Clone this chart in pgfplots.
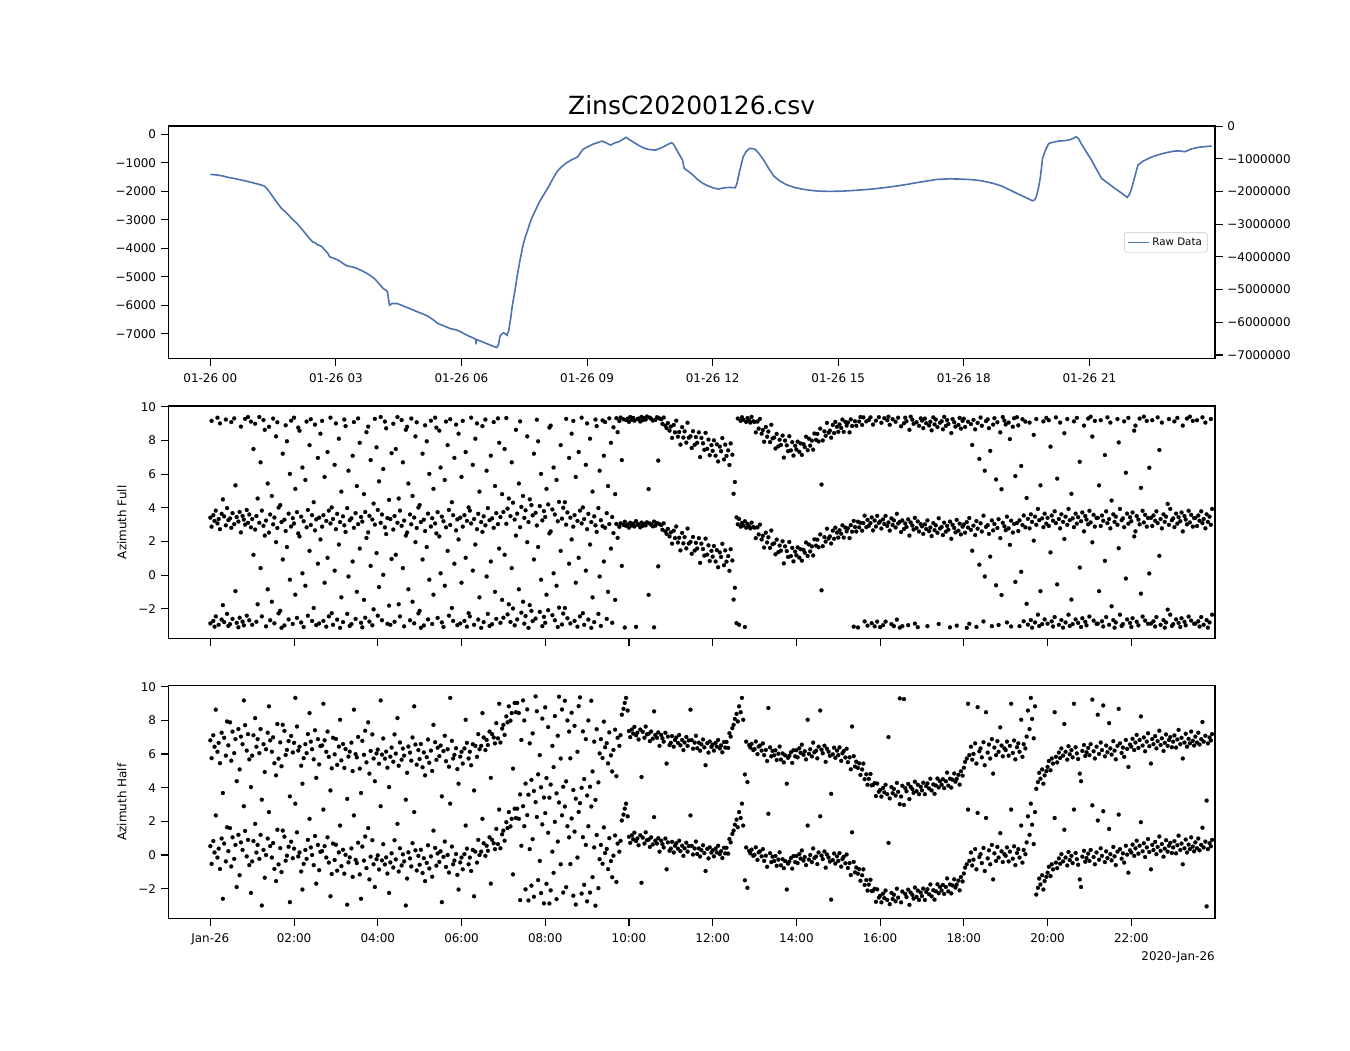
\documentclass[border=0pt]{standalone}
\usepackage{fontspec}
\setmainfont{DejaVu Sans}
\usepackage{pgfplots}
\usepackage{pgfplotstable}
\pgfplotsset{compat=1.18}
\definecolor{rawblue}{RGB}{76,114,176}

\pgfplotstableread[row sep=\\]{
t v\\
0.00 -1405\\ 0.10 -1415\\ 0.18 -1428\\ 0.30 -1460\\ 0.43 -1510\\ 0.55 -1540\\ 0.67 -1580\\ 0.80 -1620\\ 0.92 -1662\\ 1.05 -1710\\
1.17 -1756\\ 1.29 -1814\\ 1.35 -1900\\ 1.41 -2013\\ 1.50 -2200\\ 1.58 -2365\\ 1.64 -2480\\ 1.70 -2599\\ 1.78 -2700\\ 1.87 -2833\\
1.97 -2990\\ 2.07 -3125\\ 2.15 -3260\\ 2.24 -3418\\ 2.34 -3600\\ 2.44 -3769\\ 2.50 -3800\\ 2.55 -3860\\ 2.65 -3921\\ 2.73 -4050\\
2.81 -4179\\ 2.85 -4296\\ 2.95 -4350\\ 3.06 -4413\\ 3.16 -4520\\ 3.26 -4612\\ 3.36 -4640\\ 3.47 -4682\\ 3.60 -4770\\ 3.72 -4858\\
3.82 -4950\\ 3.92 -5057\\ 4.02 -5220\\ 4.13 -5408\\ 4.20 -5470\\ 4.23 -5525\\ 4.26 -5800\\ 4.28 -5993\\ 4.35 -5930\\ 4.46 -5935\\
4.58 -6000\\ 4.70 -6075\\ 4.83 -6150\\ 4.95 -6227\\ 5.08 -6300\\ 5.20 -6379\\ 5.32 -6500\\ 5.44 -6637\\ 5.55 -6700\\ 5.73 -6813\\
5.85 -6850\\ 5.94 -6895\\ 6.06 -6990\\ 6.18 -7082\\ 6.28 -7140\\ 6.34 -7199\\ 6.35 -7360\\ 6.36 -7199\\ 6.47 -7260\\ 6.60 -7340\\
6.72 -7410\\ 6.84 -7480\\ 6.88 -7400\\ 6.92 -7082\\ 6.97 -6990\\ 7.01 -6965\\ 7.05 -7000\\ 7.09 -7047\\ 7.13 -6871\\ 7.17 -6500\\
7.21 -6052\\ 7.28 -5450\\ 7.34 -4881\\ 7.40 -4400\\ 7.46 -3945\\ 7.52 -3620\\ 7.58 -3360\\ 7.66 -3000\\ 7.75 -2716\\ 7.83 -2460\\
7.91 -2247\\ 8.00 -2030\\ 8.08 -1838\\ 8.18 -1560\\ 8.28 -1311\\ 8.38 -1150\\ 8.49 -1018\\ 8.62 -900\\ 8.78 -784\\ 8.84 -650\\
8.90 -527\\ 9.02 -430\\ 9.15 -339\\ 9.25 -290\\ 9.36 -234\\ 9.46 -300\\ 9.56 -375\\ 9.66 -300\\ 9.76 -258\\ 9.85 -180\\
9.93 -105\\ 10.03 -200\\ 10.13 -293\\ 10.25 -400\\ 10.38 -492\\ 10.50 -535\\ 10.63 -550\\ 10.73 -500\\ 10.83 -433\\ 10.93 -350\\
11.02 -293\\ 11.07 -350\\ 11.12 -492\\ 11.20 -700\\ 11.28 -901\\ 11.32 -1194\\ 11.45 -1330\\ 11.53 -1428\\ 11.61 -1545\\ 11.68 -1627\\
11.78 -1730\\ 11.90 -1814\\ 12.02 -1880\\ 12.15 -1920\\ 12.22 -1890\\ 12.29 -1873\\ 12.40 -1860\\ 12.54 -1873\\ 12.58 -1721\\ 12.65 -1250\\
12.73 -784\\ 12.80 -600\\ 12.88 -492\\ 12.95 -500\\ 13.02 -527\\ 13.12 -700\\ 13.22 -901\\ 13.34 -1200\\ 13.46 -1463\\ 13.60 -1630\\
13.75 -1756\\ 13.95 -1860\\ 14.14 -1920\\ 14.35 -1965\\ 14.53 -1990\\ 14.80 -2000\\ 15.11 -1990\\ 15.45 -1960\\ 15.79 -1920\\ 16.10 -1870\\
16.38 -1814\\ 16.62 -1760\\ 16.86 -1697\\ 17.10 -1640\\ 17.35 -1580\\ 17.65 -1560\\ 17.93 -1568\\ 18.20 -1590\\ 18.42 -1627\\ 18.68 -1710\\
18.91 -1814\\ 19.10 -1950\\ 19.30 -2095\\ 19.50 -2230\\ 19.64 -2329\\ 19.69 -2300\\ 19.73 -2189\\ 19.78 -1900\\ 19.83 -1487\\ 19.88 -843\\
19.95 -550\\ 20.03 -316\\ 20.15 -270\\ 20.27 -234\\ 20.40 -220\\ 20.51 -199\\ 20.60 -150\\ 20.68 -82\\ 20.74 -150\\ 20.80 -316\\
20.92 -600\\ 21.05 -901\\ 21.17 -1230\\ 21.29 -1545\\ 21.45 -1720\\ 21.63 -1920\\ 21.78 -2070\\ 21.90 -2212\\ 21.96 -2100\\ 22.02 -1838\\
22.09 -1450\\ 22.16 -1077\\ 22.28 -940\\ 22.41 -843\\ 22.55 -760\\ 22.70 -691\\ 22.87 -630\\ 23.04 -585\\ 23.15 -580\\ 23.28 -609\\
23.42 -520\\ 23.58 -457\\ 23.75 -430\\ 23.92 -410\\
}\toptable

\pgfplotstableread[row sep=\\]{
t a\\
0.00 -2.87\\ 0.03 2.88\\ 0.07 -2.72\\ 0.10 -3.06\\ 0.13 -2.45\\ 0.17 3.07\\ 0.20 -2.95\\ 0.23 2.73\\ 0.27 -2.64\\ 0.30 -1.78\\
0.33 -2.79\\ 0.37 2.96\\ 0.40 -2.30\\ 0.43 -3.02\\ 0.47 -2.91\\ 0.50 2.81\\ 0.53 -2.60\\ 0.57 3.03\\ 0.60 -0.95\\ 0.63 -2.83\\
0.67 -3.10\\ 0.70 -2.53\\ 0.73 2.54\\ 0.77 -2.76\\ 0.80 -2.98\\ 0.83 3.00\\ 0.87 -2.41\\ 0.90 3.11\\ 0.93 -2.68\\ 0.97 2.84\\
1.00 -2.95\\ 1.03 1.21\\ 1.07 2.71\\ 1.10 -2.77\\ 1.13 -1.73\\ 1.17 3.11\\ 1.20 0.42\\ 1.23 -2.45\\ 1.27 2.93\\ 1.30 2.35\\
1.33 -3.04\\ 1.37 -0.84\\ 1.40 2.53\\ 1.43 -2.68\\ 1.47 -1.58\\ 1.50 3.02\\ 1.53 -2.86\\ 1.57 1.96\\ 1.60 2.80\\ 1.63 -2.27\\
1.67 -2.12\\ 1.70 -3.13\\ 1.73 0.93\\ 1.77 -2.99\\ 1.80 2.62\\ 1.83 1.67\\ 1.87 -2.63\\ 1.90 -0.27\\ 1.93 2.89\\ 1.97 -2.90\\
2.00 3.07\\ 2.03 -1.16\\ 2.07 -2.54\\ 2.10 2.48\\ 2.13 2.30\\ 2.17 -2.81\\ 2.20 0.11\\ 2.23 -3.08\\ 2.27 -0.63\\ 2.30 2.84\\
2.33 -2.41\\ 2.37 1.44\\ 2.40 2.98\\ 2.43 -2.72\\ 2.47 -1.95\\ 2.50 2.66\\ 2.53 -2.97\\ 2.57 0.68\\ 2.60 -2.87\\ 2.63 2.12\\
2.67 2.88\\ 2.70 -2.72\\ 2.73 -0.45\\ 2.77 -3.06\\ 2.80 1.03\\ 2.83 -2.45\\ 2.87 3.07\\ 2.90 -2.26\\ 2.93 -2.95\\ 2.97 0.27\\
3.00 2.73\\ 3.03 -2.64\\ 3.07 1.82\\ 3.10 -3.13\\ 3.13 -1.32\\ 3.17 -2.79\\ 3.20 2.96\\ 3.23 2.57\\ 3.27 -2.30\\ 3.30 -0.08\\
3.33 -3.02\\ 3.37 -2.91\\ 3.40 0.81\\ 3.43 2.81\\ 3.47 -2.60\\ 3.50 -0.99\\ 3.53 3.03\\ 3.57 1.58\\ 3.60 -2.83\\ 3.63 -3.10\\
3.67 -1.47\\ 3.70 -2.53\\ 3.73 2.21\\ 3.77 2.54\\ 3.80 -2.76\\ 3.83 0.55\\ 3.87 -2.98\\ 3.90 -2.03\\ 3.93 3.00\\ 3.97 1.31\\
4.00 -2.41\\ 4.03 -0.71\\ 4.07 3.11\\ 4.10 -2.68\\ 4.13 0.02\\ 4.17 2.84\\ 4.20 2.44\\ 4.23 -2.89\\ 4.27 -1.81\\ 4.30 -2.95\\
4.33 0.96\\ 4.37 2.71\\ 4.40 -2.77\\ 4.43 1.21\\ 4.47 3.11\\ 4.50 -1.73\\ 4.53 -2.45\\ 4.57 2.93\\ 4.60 0.42\\ 4.63 -3.04\\
4.67 2.35\\ 4.70 2.53\\ 4.73 -0.84\\ 4.77 -2.68\\ 4.80 3.02\\ 4.83 -1.58\\ 4.87 -2.86\\ 4.90 1.96\\ 4.93 2.80\\ 4.97 -2.27\\
5.00 -2.12\\ 5.03 -3.13\\ 5.07 0.93\\ 5.10 -2.99\\ 5.13 2.62\\ 5.17 1.67\\ 5.20 -2.63\\ 5.23 -0.27\\ 5.27 2.89\\ 5.30 -2.90\\
5.33 -1.16\\ 5.37 3.07\\ 5.40 2.48\\ 5.43 -2.54\\ 5.47 2.30\\ 5.50 0.11\\ 5.53 -2.81\\ 5.57 -3.08\\ 5.60 -0.63\\ 5.63 2.84\\
5.67 1.44\\ 5.70 -2.41\\ 5.73 2.98\\ 5.77 -1.95\\ 5.80 -2.72\\ 5.83 0.68\\ 5.87 2.66\\ 5.90 -2.97\\ 5.93 2.12\\ 5.97 -2.87\\
6.00 -0.45\\ 6.03 2.88\\ 6.07 -2.72\\ 6.10 1.03\\ 6.13 -3.06\\ 6.17 -2.26\\ 6.20 -2.45\\ 6.23 3.07\\ 6.27 0.27\\ 6.30 -2.95\\
6.33 1.82\\ 6.37 2.73\\ 6.40 -2.64\\ 6.43 -1.32\\ 6.47 -3.13\\ 6.50 2.57\\ 6.53 -2.79\\ 6.57 2.96\\ 6.60 -0.08\\ 6.63 -2.30\\
6.67 -3.02\\ 6.70 0.81\\ 6.73 -2.91\\ 6.77 2.81\\ 6.80 -0.99\\ 6.83 -2.60\\ 6.87 3.03\\ 6.90 1.58\\ 6.93 -2.83\\ 6.97 -1.47\\
7.00 -2.53\\ 7.03 1.21\\ 7.07 3.05\\ 7.10 -2.33\\ 7.13 -1.73\\ 7.17 -2.78\\ 7.20 0.42\\ 7.23 -1.98\\ 7.27 -2.98\\ 7.30 2.35\\
7.33 -2.63\\ 7.37 -0.84\\ 7.40 2.85\\ 7.43 -2.23\\ 7.47 -1.58\\ 7.50 -2.88\\ 7.53 -2.43\\ 7.57 1.96\\ 7.60 -3.13\\ 7.63 -1.78\\
7.67 -2.12\\ 7.70 -2.73\\ 7.73 0.93\\ 7.77 -2.58\\ 7.80 2.95\\ 7.83 1.67\\ 7.87 -2.18\\ 7.90 -0.27\\ 7.93 -3.03\\ 7.97 -2.48\\
8.00 -2.83\\ 8.03 -1.16\\ 8.07 -2.08\\ 8.10 2.48\\ 8.13 2.60\\ 8.17 -2.38\\ 8.20 0.11\\ 8.23 -2.68\\ 8.27 -0.63\\ 8.30 -3.08\\
8.33 -1.93\\ 8.37 1.44\\ 8.40 -2.93\\ 8.43 -2.28\\ 8.47 -1.95\\ 8.50 3.00\\ 8.53 -2.56\\ 8.57 0.68\\ 8.60 -2.87\\ 8.63 2.12\\
8.67 2.88\\ 8.70 -2.72\\ 8.73 -0.45\\ 8.77 -3.06\\ 8.80 1.03\\ 8.83 -2.45\\ 8.87 3.07\\ 8.90 -2.26\\ 8.93 -2.95\\ 8.97 0.27\\
9.00 2.73\\ 9.03 -2.64\\ 9.07 1.82\\ 9.10 -3.13\\ 9.13 -1.32\\ 9.17 -2.79\\ 9.20 2.96\\ 9.23 2.57\\ 9.27 -2.30\\ 9.30 -0.08\\
9.33 -3.02\\ 9.37 2.91\\ 9.40 0.81\\ 9.43 2.81\\ 9.47 -2.60\\ 9.50 -0.99\\ 9.53 3.03\\ 9.57 1.58\\ 9.60 -2.83\\ 9.63 2.50\\
9.67 -1.47\\ 9.70 3.04\\ 9.73 2.21\\ 9.77 2.87\\ 9.80 3.08\\ 9.83 0.55\\ 9.87 2.98\\ 9.90 -3.11\\ 9.93 2.93\\ 9.97 3.01\\
10.00 2.82\\ 10.03 3.11\\ 10.07 2.95\\ 10.10 3.06\\ 10.13 2.89\\ 10.17 -3.07\\ 10.20 2.99\\ 10.23 3.02\\ 10.27 2.84\\ 10.30 3.12\\
10.33 2.92\\ 10.37 3.05\\ 10.40 2.96\\ 10.43 3.14\\ 10.47 -1.17\\ 10.50 3.07\\ 10.53 3.00\\ 10.57 2.90\\ 10.60 -3.10\\ 10.63 2.94\\
10.67 3.10\\ 10.70 0.52\\ 10.73 3.03\\ 10.77 2.98\\ 10.80 2.70\\ 10.83 3.08\\ 10.87 2.60\\ 10.90 2.45\\ 10.93 2.75\\ 10.97 2.30\\
11.00 2.54\\ 11.03 1.87\\ 11.07 2.64\\ 11.10 2.20\\ 11.13 2.89\\ 11.17 1.94\\ 11.20 2.22\\ 11.23 1.47\\ 11.27 2.51\\ 11.30 1.89\\
11.33 2.26\\ 11.37 1.59\\ 11.40 2.77\\ 11.43 1.88\\ 11.47 1.97\\ 11.50 1.27\\ 11.53 2.27\\ 11.57 1.46\\ 11.60 1.92\\ 11.63 1.58\\
11.67 2.20\\ 11.70 0.73\\ 11.73 1.87\\ 11.77 1.55\\ 11.80 1.16\\ 11.83 2.17\\ 11.87 1.22\\ 11.90 1.77\\ 11.93 0.84\\ 11.97 1.44\\
12.00 1.10\\ 12.03 1.73\\ 12.07 0.81\\ 12.10 1.49\\ 12.13 0.47\\ 12.17 1.35\\ 12.20 1.08\\ 12.23 1.86\\ 12.27 0.59\\ 12.30 1.47\\
12.33 0.80\\ 12.37 1.13\\ 12.40 0.26\\ 12.43 1.54\\ 12.47 0.87\\ 12.50 -1.45\\ 12.53 -0.75\\ 12.57 -2.85\\ 12.60 3.02\\ 12.63 -2.95\\
12.67 2.88\\ 12.70 3.10\\ 12.73 2.95\\ 12.77 -3.08\\ 12.80 2.82\\ 12.83 3.05\\ 12.87 2.91\\ 12.90 2.78\\ 12.93 3.12\\ 12.97 2.86\\
13.00 2.82\\ 13.03 2.20\\ 13.07 2.84\\ 13.10 2.42\\ 13.13 3.00\\ 13.17 2.12\\ 13.20 2.34\\ 13.23 1.64\\ 13.27 2.52\\ 13.30 1.94\\
13.33 2.25\\ 13.37 1.62\\ 13.40 2.65\\ 13.43 1.84\\ 13.47 1.89\\ 13.50 1.24\\ 13.53 2.11\\ 13.57 1.37\\ 13.60 1.76\\ 13.63 1.45\\
13.67 2.01\\ 13.70 0.70\\ 13.73 1.71\\ 13.77 1.43\\ 13.80 1.08\\ 13.83 1.97\\ 13.87 1.13\\ 13.90 1.62\\ 13.93 0.82\\ 13.97 1.40\\
14.00 1.18\\ 14.03 1.65\\ 14.07 1.04\\ 14.10 1.54\\ 14.13 0.86\\ 14.17 1.50\\ 14.20 1.33\\ 14.23 1.94\\ 14.27 1.14\\ 14.30 1.82\\
14.33 1.41\\ 14.37 1.71\\ 14.40 1.17\\ 14.43 2.13\\ 14.47 1.75\\ 14.50 2.11\\ 14.53 1.66\\ 14.57 2.42\\ 14.60 -0.90\\ 14.63 1.72\\
14.67 2.26\\ 14.70 1.99\\ 14.73 2.76\\ 14.77 2.18\\ 14.80 2.30\\ 14.83 1.88\\ 14.87 2.64\\ 14.90 2.16\\ 14.93 2.82\\ 14.97 2.53\\
15.00 2.23\\ 15.03 2.67\\ 15.07 2.46\\ 15.10 2.96\\ 15.13 2.23\\ 15.17 2.82\\ 15.20 2.60\\ 15.23 2.78\\ 15.27 2.20\\ 15.30 2.97\\
15.33 2.58\\ 15.37 -3.06\\ 15.40 2.86\\ 15.43 2.59\\ 15.47 -3.11\\ 15.50 2.84\\ 15.53 3.11\\ 15.57 2.64\\ 15.60 3.09\\ 15.63 -2.75\\
15.67 2.85\\ 15.70 -3.00\\ 15.73 2.93\\ 15.77 3.09\\ 15.80 -2.85\\ 15.83 2.66\\ 15.87 -3.04\\ 15.90 2.89\\ 15.93 -2.76\\ 15.97 3.10\\
16.00 -3.09\\ 16.03 2.77\\ 16.07 -2.97\\ 16.10 3.04\\ 16.13 -2.76\\ 16.17 2.92\\ 16.20 3.13\\ 16.23 2.65\\ 16.27 -2.91\\ 16.30 2.98\\
16.33 -3.03\\ 16.37 2.83\\ 16.40 -2.64\\ 16.43 3.07\\ 16.47 -3.12\\ 16.50 2.56\\ 16.53 -3.03\\ 16.57 2.74\\ 16.60 3.07\\ 16.63 2.86\\
16.67 -2.97\\ 16.70 2.35\\ 16.73 3.13\\ 16.77 2.95\\ 16.80 2.71\\ 16.83 -2.88\\ 16.87 2.80\\ 16.90 -3.09\\ 16.93 2.59\\ 16.97 3.03\\
17.00 2.90\\ 17.03 2.45\\ 17.07 3.02\\ 17.10 2.74\\ 17.13 -3.03\\ 17.17 2.61\\ 17.20 2.83\\ 17.23 2.32\\ 17.27 3.09\\ 17.30 2.67\\
17.33 2.96\\ 17.37 2.51\\ 17.40 -2.90\\ 17.43 2.77\\ 17.47 2.86\\ 17.50 2.38\\ 17.53 3.12\\ 17.57 2.58\\ 17.60 2.93\\ 17.63 2.70\\
17.67 -3.10\\ 17.70 2.16\\ 17.73 2.99\\ 17.77 2.80\\ 17.80 2.54\\ 17.83 -3.00\\ 17.87 2.64\\ 17.90 3.06\\ 17.93 2.42\\ 17.97 2.88\\
18.00 3.01\\ 18.03 2.52\\ 18.07 -3.13\\ 18.10 2.83\\ 18.13 -2.89\\ 18.17 2.69\\ 18.20 1.45\\ 18.23 2.94\\ 18.27 2.38\\ 18.30 -3.07\\
18.33 2.76\\ 18.37 0.62\\ 18.40 3.08\\ 18.43 2.59\\ 18.47 -2.75\\ 18.50 -0.08\\ 18.53 2.87\\ 18.57 2.97\\ 18.60 2.45\\ 18.63 1.10\\
18.67 -3.03\\ 18.70 2.66\\ 18.73 3.04\\ 18.77 -0.60\\ 18.80 2.80\\ 18.83 -2.96\\ 18.87 2.20\\ 18.90 -1.18\\ 18.93 3.11\\ 18.97 2.90\\
19.00 2.67\\ 19.03 -2.81\\ 19.07 2.78\\ 19.10 1.80\\ 19.13 -3.05\\ 19.17 2.53\\ 19.20 3.04\\ 19.23 -0.40\\ 19.27 3.10\\ 19.30 2.62\\
19.33 -3.03\\ 19.37 0.20\\ 19.40 2.98\\ 19.43 -2.74\\ 19.47 2.84\\ 19.50 -1.70\\ 19.53 -2.94\\ 19.57 2.78\\ 19.60 -2.67\\ 19.63 -3.12\\
19.67 2.05\\ 19.70 -2.81\\ 19.73 2.99\\ 19.77 -2.35\\ 19.80 -3.02\\ 19.83 -0.95\\ 19.87 -2.91\\ 19.90 2.85\\ 19.93 -2.63\\ 19.97 3.06\\
20.00 -2.88\\ 20.03 2.92\\ 20.07 1.35\\ 20.10 -2.74\\ 20.13 -3.05\\ 20.17 -2.49\\ 20.20 3.09\\ 20.23 -0.55\\ 20.27 -2.95\\ 20.30 2.78\\
20.33 -2.67\\ 20.37 -3.12\\ 20.40 2.15\\ 20.43 -2.81\\ 20.47 2.99\\ 20.50 -2.35\\ 20.53 -3.02\\ 20.57 -1.45\\ 20.60 -2.91\\ 20.63 2.85\\
20.67 -2.63\\ 20.70 3.06\\ 20.73 -2.84\\ 20.77 0.45\\ 20.80 -3.08\\ 20.83 -2.56\\ 20.87 2.60\\ 20.90 -2.77\\ 20.93 -2.98\\ 20.97 3.02\\
21.00 -2.46\\ 21.03 3.13\\ 21.07 1.95\\ 21.10 -2.70\\ 21.13 2.88\\ 21.17 -2.89\\ 21.20 -2.88\\ 21.23 -0.95\\ 21.27 2.92\\ 21.30 -2.74\\
21.33 -3.05\\ 21.37 0.85\\ 21.40 -2.49\\ 21.43 3.09\\ 21.47 -2.95\\ 21.50 2.78\\ 21.53 -1.85\\ 21.57 -2.67\\ 21.60 -3.12\\ 21.63 -2.81\\
21.67 2.99\\ 21.70 1.60\\ 21.73 -2.35\\ 21.77 -3.02\\ 21.80 -2.91\\ 21.83 2.85\\ 21.87 -0.20\\ 21.90 -2.63\\ 21.93 3.06\\ 21.97 -2.84\\
22.00 -3.08\\ 22.03 -2.56\\ 22.07 2.30\\ 22.10 2.60\\ 22.13 -2.77\\ 22.17 -2.98\\ 22.20 3.02\\ 22.23 -1.10\\ 22.27 -2.46\\ 22.30 3.13\\
22.33 -2.70\\ 22.37 2.88\\ 22.40 -2.89\\ 22.43 0.10\\ 22.47 -2.88\\ 22.50 2.92\\ 22.53 -2.74\\ 22.57 -3.05\\ 22.60 -2.49\\ 22.63 3.09\\
22.67 1.15\\ 22.70 -2.95\\ 22.73 2.78\\ 22.77 -2.67\\ 22.80 -3.12\\ 22.83 -2.81\\ 22.87 -2.05\\ 22.90 2.99\\ 22.93 -2.35\\ 22.97 -3.02\\
23.00 -2.91\\ 23.03 2.85\\ 23.07 -2.63\\ 23.10 3.06\\ 23.13 -2.84\\ 23.17 -3.08\\ 23.20 -2.56\\ 23.23 2.60\\ 23.27 -2.77\\ 23.30 -2.98\\
23.33 3.02\\ 23.37 -2.46\\ 23.40 3.13\\ 23.43 -2.70\\ 23.47 2.88\\ 23.50 -2.89\\ 23.53 -2.88\\ 23.57 2.92\\ 23.60 -2.74\\ 23.63 -3.05\\
23.67 -2.49\\ 23.70 3.09\\ 23.73 -2.95\\ 23.77 2.78\\ 23.80 -2.67\\ 23.83 -3.12\\ 23.87 -2.81\\ 23.90 2.99\\ 23.93 -2.35\\
}\fulltable

\pgfplotstableread[row sep=\\]{
t a\\
0.00 0.53\\ 0.03 -0.53\\ 0.07 0.83\\ 0.10 0.15\\ 0.13 2.35\\ 0.17 -0.15\\ 0.20 0.38\\ 0.23 -0.83\\ 0.27 0.98\\ 0.30 -2.60\\
0.33 0.68\\ 0.37 -0.38\\ 0.40 1.65\\ 0.43 0.23\\ 0.47 1.60\\ 0.50 -0.68\\ 0.53 1.05\\ 0.57 -0.23\\ 0.60 0.60\\ 0.63 -1.90\\
0.67 1.20\\ 0.70 -1.20\\ 0.73 0.75\\ 0.77 0.30\\ 0.80 2.90\\ 0.83 1.43\\ 0.87 -0.08\\ 0.90 0.90\\ 0.93 -0.60\\ 0.97 -2.25\\
1.00 -0.38\\ 1.03 0.83\\ 1.07 1.85\\ 1.10 0.15\\ 1.13 0.60\\ 1.17 -0.23\\ 1.20 1.20\\ 1.23 -3.00\\ 1.27 0.30\\ 1.30 -1.35\\
1.33 0.00\\ 1.37 0.98\\ 1.40 2.55\\ 1.43 0.53\\ 1.47 -0.15\\ 1.50 0.71\\ 1.53 -0.83\\ 1.57 -1.55\\ 1.60 1.50\\ 1.63 -0.56\\
1.67 0.41\\ 1.70 -1.01\\ 1.73 1.45\\ 1.77 1.09\\ 1.80 -0.34\\ 1.83 -0.04\\ 1.87 0.49\\ 1.90 -2.80\\ 1.93 0.79\\ 1.97 -0.19\\
2.00 0.38\\ 2.03 3.05\\ 2.07 1.35\\ 2.10 -0.08\\ 2.13 0.15\\ 2.17 -0.98\\ 2.20 -2.05\\ 2.23 -0.53\\ 2.27 0.30\\ 2.30 -0.23\\
2.33 0.90\\ 2.37 2.15\\ 2.40 0.45\\ 2.43 0.00\\ 2.47 -0.60\\ 2.50 1.13\\ 2.53 -1.70\\ 2.57 0.60\\ 2.60 -0.90\\ 2.63 0.19\\
2.67 0.23\\ 2.70 2.70\\ 2.73 0.53\\ 2.77 -0.15\\ 2.80 1.05\\ 2.83 -0.45\\ 2.87 -2.45\\ 2.90 -1.13\\ 2.93 0.68\\ 2.97 -0.30\\
3.00 0.61\\ 3.03 -0.93\\ 3.07 0.16\\ 3.10 1.75\\ 3.13 -0.66\\ 3.17 0.31\\ 3.20 -1.11\\ 3.23 0.01\\ 3.27 -2.95\\ 3.30 -0.44\\
3.33 -0.14\\ 3.37 0.39\\ 3.40 -1.30\\ 3.43 2.35\\ 3.47 -0.29\\ 3.50 -0.48\\ 3.53 0.73\\ 3.57 -1.15\\ 3.60 -2.60\\ 3.63 0.50\\
3.67 -0.33\\ 3.70 1.10\\ 3.73 -0.78\\ 3.77 1.60\\ 3.80 -1.45\\ 3.83 -0.10\\ 3.87 0.88\\ 3.90 -0.55\\ 3.93 -1.90\\ 3.97 -0.25\\
4.00 -0.02\\ 4.03 -0.86\\ 4.07 2.90\\ 4.10 -0.32\\ 4.13 0.64\\ 4.17 -0.56\\ 4.20 -0.14\\ 4.23 -1.10\\ 4.27 -2.25\\ 4.30 -0.44\\
4.33 0.10\\ 4.37 -0.74\\ 4.40 0.88\\ 4.43 -0.26\\ 4.47 1.85\\ 4.50 -0.98\\ 4.53 0.40\\ 4.57 -0.62\\ 4.60 0.04\\ 4.63 -0.38\\
4.67 -3.00\\ 4.70 -1.40\\ 4.73 0.16\\ 4.77 -0.20\\ 4.80 -0.68\\ 4.83 0.70\\ 4.87 2.55\\ 4.90 0.28\\ 4.93 -0.92\\ 4.97 -0.05\\
5.00 -0.58\\ 5.03 0.31\\ 5.07 -1.07\\ 5.10 -0.19\\ 5.13 -1.55\\ 5.17 -0.47\\ 5.20 0.58\\ 5.23 -0.80\\ 5.27 -0.08\\ 5.30 -1.29\\
5.33 1.45\\ 5.37 0.42\\ 5.40 -0.63\\ 5.43 0.09\\ 5.47 -0.41\\ 5.50 0.22\\ 5.53 -2.80\\ 5.57 -0.11\\ 5.60 0.80\\ 5.63 -0.71\\
5.67 0.00\\ 5.70 -1.04\\ 5.73 3.05\\ 5.77 0.50\\ 5.80 -0.55\\ 5.83 -0.33\\ 5.87 0.06\\ 5.90 -1.18\\ 5.93 -2.05\\ 5.97 -0.44\\
6.00 -0.15\\ 6.03 -0.85\\ 6.07 0.05\\ 6.10 1.75\\ 6.13 0.38\\ 6.17 -0.55\\ 6.20 -0.15\\ 6.23 -0.95\\ 6.27 0.30\\ 6.30 -2.45\\
6.33 0.20\\ 6.37 -0.45\\ 6.40 0.90\\ 6.43 0.00\\ 6.47 0.20\\ 6.50 2.15\\ 6.53 0.70\\ 6.57 -0.05\\ 6.60 0.55\\ 6.63 0.25\\
6.67 1.05\\ 6.70 -1.70\\ 6.73 0.90\\ 6.77 0.70\\ 6.80 0.35\\ 6.83 1.55\\ 6.87 0.65\\ 6.90 2.70\\ 6.93 0.40\\ 6.97 1.23\\
7.00 1.45\\ 7.03 0.85\\ 7.07 1.95\\ 7.10 1.60\\ 7.13 2.55\\ 7.17 1.70\\ 7.20 2.15\\ 7.23 -1.15\\ 7.27 2.75\\ 7.30 2.20\\
7.33 2.75\\ 7.37 2.15\\ 7.40 -2.68\\ 7.43 0.55\\ 7.47 2.90\\ 7.50 1.71\\ 7.53 -2.04\\ 7.57 2.37\\ 7.60 -2.70\\ 7.63 0.35\\
7.67 -1.82\\ 7.70 0.94\\ 7.73 -2.48\\ 7.77 3.14\\ 7.80 2.26\\ 7.83 -1.49\\ 7.87 -0.35\\ 7.90 -2.26\\ 7.93 1.82\\ 7.97 -2.87\\
8.00 2.49\\ 8.03 -1.71\\ 8.07 1.32\\ 8.10 -2.88\\ 8.13 -2.10\\ 8.17 0.20\\ 8.20 -1.06\\ 8.23 1.97\\ 8.27 -2.62\\ 8.30 0.80\\
8.33 3.12\\ 8.37 -0.55\\ 8.40 2.36\\ 8.43 -2.23\\ 8.47 2.88\\ 8.50 -1.91\\ 8.53 1.71\\ 8.57 1.05\\ 8.60 -0.54\\ 8.63 2.17\\
8.67 -2.42\\ 8.70 1.39\\ 8.73 -2.94\\ 8.77 -0.15\\ 8.80 2.56\\ 8.83 3.08\\ 8.87 -2.29\\ 8.90 1.06\\ 8.93 -1.77\\ 8.97 0.60\\
9.00 -2.75\\ 9.03 1.71\\ 9.07 -2.23\\ 9.10 2.88\\ 9.13 -1.32\\ 9.17 0.45\\ 9.20 -3.01\\ 9.23 1.19\\ 9.27 -1.97\\ 9.30 -0.25\\
9.33 0.60\\ 9.37 -0.52\\ 9.40 1.64\\ 9.43 0.12\\ 9.47 0.36\\ 9.50 -0.84\\ 9.53 1.00\\ 9.57 -0.36\\ 9.60 -1.32\\ 9.63 -0.04\\
9.67 1.16\\ 9.70 -1.60\\ 9.73 0.68\\ 9.77 0.20\\ 9.80 0.84\\ 9.83 2.05\\ 9.87 2.40\\ 9.90 2.75\\ 9.93 3.05\\ 9.97 2.30\\
10.00 1.08\\ 10.03 0.72\\ 10.07 1.17\\ 10.10 0.93\\ 10.13 1.33\\ 10.17 0.83\\ 10.20 0.98\\ 10.23 0.58\\ 10.27 1.17\\ 10.30 -1.65\\
10.33 1.03\\ 10.37 0.68\\ 10.40 1.35\\ 10.43 0.88\\ 10.47 0.92\\ 10.50 0.48\\ 10.53 1.05\\ 10.57 0.63\\ 10.60 2.25\\ 10.63 0.85\\
10.67 0.68\\ 10.70 1.00\\ 10.73 0.20\\ 10.77 0.85\\ 10.80 0.65\\ 10.83 0.45\\ 10.87 0.98\\ 10.90 -0.85\\ 10.93 0.75\\ 10.97 0.25\\
11.00 0.38\\ 11.03 0.78\\ 11.07 0.15\\ 11.10 0.55\\ 11.13 0.70\\ 11.17 0.38\\ 11.20 0.85\\ 11.23 0.23\\ 11.27 0.55\\ 11.30 -0.05\\
11.33 0.40\\ 11.37 0.73\\ 11.40 0.20\\ 11.43 0.53\\ 11.47 2.35\\ 11.50 0.54\\ 11.53 0.03\\ 11.57 0.39\\ 11.60 0.80\\ 11.63 0.06\\
11.67 0.39\\ 11.70 -0.09\\ 11.73 0.29\\ 11.77 0.58\\ 11.80 0.11\\ 11.83 -0.95\\ 11.87 0.36\\ 11.90 -0.20\\ 11.93 0.46\\ 11.97 0.14\\
12.00 0.28\\ 12.03 -0.08\\ 12.07 0.38\\ 12.10 0.15\\ 12.13 0.55\\ 12.17 0.05\\ 12.20 0.23\\ 12.23 -0.18\\ 12.27 0.43\\ 12.30 0.10\\
12.33 0.43\\ 12.37 0.08\\ 12.40 0.95\\ 12.43 0.75\\ 12.47 1.25\\ 12.50 1.45\\ 12.53 1.80\\ 12.57 2.10\\ 12.60 1.65\\ 12.63 2.55\\
12.67 2.20\\ 12.70 3.05\\ 12.73 1.75\\ 12.77 -1.50\\ 12.80 0.45\\ 12.83 -1.95\\ 12.87 0.25\\ 12.90 0.10\\ 12.93 0.32\\ 12.97 -0.05\\
13.00 0.01\\ 13.03 0.46\\ 13.07 -0.29\\ 13.10 0.16\\ 13.13 0.22\\ 13.17 -0.08\\ 13.20 0.35\\ 13.23 -0.35\\ 13.27 -0.04\\ 13.30 -0.70\\
13.33 2.45\\ 13.37 0.11\\ 13.40 -0.42\\ 13.43 -0.10\\ 13.47 -0.36\\ 13.50 -0.06\\ 13.53 -0.64\\ 13.57 -0.27\\ 13.60 0.16\\ 13.63 -0.61\\
13.67 -0.25\\ 13.70 -0.78\\ 13.73 -0.36\\ 13.77 -2.05\\ 13.80 -0.51\\ 13.83 -0.39\\ 13.87 -0.18\\ 13.90 -0.81\\ 13.93 -0.06\\ 13.97 -0.42\\
14.00 -0.06\\ 14.03 -0.48\\ 14.07 0.06\\ 14.10 -0.21\\ 14.13 0.27\\ 14.17 -0.33\\ 14.20 -0.12\\ 14.23 -0.60\\ 14.27 1.75\\ 14.30 -0.27\\
14.33 0.00\\ 14.37 -0.42\\ 14.40 0.39\\ 14.43 -0.18\\ 14.47 -0.09\\ 14.50 -0.54\\ 14.53 0.15\\ 14.57 2.30\\ 14.60 -0.03\\ 14.63 -0.24\\
14.67 0.21\\ 14.70 -0.75\\ 14.73 0.03\\ 14.77 -0.15\\ 14.80 -0.39\\ 14.83 -2.65\\ 14.87 -0.30\\ 14.90 0.09\\ 14.93 -0.51\\ 14.97 -0.08\\
15.00 -0.35\\ 15.03 0.11\\ 15.07 -0.69\\ 15.10 -0.24\\ 15.13 -0.11\\ 15.17 -0.49\\ 15.20 0.03\\ 15.23 -0.77\\ 15.27 -0.48\\ 15.30 -1.19\\
15.33 1.35\\ 15.37 -0.41\\ 15.40 -1.03\\ 15.43 -0.74\\ 15.47 -1.11\\ 15.50 -0.84\\ 15.53 -1.53\\ 15.57 -1.20\\ 15.60 -0.85\\ 15.63 -1.78\\
15.67 -1.49\\ 15.70 -2.11\\ 15.73 -1.76\\ 15.77 -1.47\\ 15.80 -2.14\\ 15.83 -2.12\\ 15.87 -2.01\\ 15.90 -2.78\\ 15.93 -2.04\\ 15.97 -2.53\\
16.00 -2.42\\ 16.03 -2.81\\ 16.07 -2.30\\ 16.10 -2.56\\ 16.13 -2.11\\ 16.17 -2.67\\ 16.20 0.72\\ 16.23 -2.92\\ 16.27 -2.25\\ 16.30 -2.61\\
16.33 -2.36\\ 16.37 -2.75\\ 16.40 -2.00\\ 16.43 -2.53\\ 16.47 3.02\\ 16.50 -2.81\\ 16.53 -2.17\\ 16.57 2.98\\ 16.60 -2.31\\ 16.63 -2.50\\
16.67 -2.06\\ 16.70 -2.96\\ 16.73 -2.23\\ 16.77 -2.37\\ 16.80 -2.59\\ 16.83 -1.93\\ 16.87 -2.49\\ 16.90 -2.11\\ 16.93 -2.67\\ 16.97 -2.23\\
17.00 -2.44\\ 17.03 -1.99\\ 17.07 -2.67\\ 17.10 -2.19\\ 17.13 -2.03\\ 17.17 -2.33\\ 17.20 -1.75\\ 17.23 -2.45\\ 17.27 -2.09\\ 17.30 -2.65\\
17.33 -2.15\\ 17.37 -1.74\\ 17.40 -2.27\\ 17.43 -1.90\\ 17.47 -2.11\\ 17.50 -1.78\\ 17.53 -2.31\\ 17.57 -1.90\\ 17.60 -1.39\\ 17.63 -2.16\\
17.67 -1.75\\ 17.70 -2.28\\ 17.73 -1.81\\ 17.77 -1.44\\ 17.80 -1.93\\ 17.83 -1.76\\ 17.87 -1.52\\ 17.90 -2.10\\ 17.93 -1.31\\ 17.97 -1.57\\
18.00 -1.10\\ 18.03 -0.75\\ 18.07 -0.55\\ 18.10 2.70\\ 18.13 -0.35\\ 18.17 0.15\\ 18.20 -0.62\\ 18.23 -0.28\\ 18.27 0.35\\ 18.30 -0.85\\
18.33 2.50\\ 18.37 -0.12\\ 18.40 0.05\\ 18.43 -0.48\\ 18.47 0.42\\ 18.50 -0.95\\ 18.53 2.20\\ 18.57 -0.20\\ 18.60 0.28\\ 18.63 -0.55\\
18.67 0.60\\ 18.70 -1.45\\ 18.73 0.10\\ 18.77 -0.35\\ 18.80 0.48\\ 18.83 -0.15\\ 18.87 1.30\\ 18.90 0.22\\ 18.93 -0.42\\ 18.97 0.05\\
19.00 -0.05\\ 19.03 0.45\\ 19.07 -0.38\\ 19.10 0.20\\ 19.13 2.70\\ 19.17 -0.22\\ 19.20 0.52\\ 19.23 -0.60\\ 19.27 0.12\\ 19.30 0.35\\
19.33 -0.15\\ 19.37 1.75\\ 19.40 -0.45\\ 19.43 0.30\\ 19.47 0.05\\ 19.50 0.75\\ 19.53 2.30\\ 19.57 1.20\\ 19.60 3.05\\ 19.63 1.80\\
19.67 0.65\\ 19.70 2.55\\ 19.73 -2.35\\ 19.77 -1.95\\ 19.80 -1.40\\ 19.83 -1.75\\ 19.87 -1.20\\ 19.90 -2.05\\ 19.93 -1.55\\ 19.97 -1.30\\
20.00 -1.05\\ 20.03 -0.70\\ 20.07 -1.25\\ 20.10 -0.55\\ 20.13 -0.85\\ 20.17 2.20\\ 20.20 -0.45\\ 20.23 -0.78\\ 20.27 -0.20\\ 20.30 -0.52\\
20.33 0.05\\ 20.37 -0.38\\ 20.40 1.50\\ 20.43 -0.15\\ 20.47 -0.62\\ 20.50 0.18\\ 20.53 -0.30\\ 20.57 -0.05\\ 20.60 -0.48\\ 20.63 2.70\\
20.67 0.12\\ 20.70 -0.25\\ 20.73 -0.58\\ 20.77 -1.45\\ 20.80 -1.90\\ 20.83 -0.10\\ 20.87 0.25\\ 20.90 -0.40\\ 20.93 -0.18\\ 20.97 0.08\\
21.00 -0.35\\ 21.03 0.30\\ 21.07 2.95\\ 21.10 -0.12\\ 21.13 -0.55\\ 21.17 0.15\\ 21.20 2.05\\ 21.23 -0.28\\ 21.27 0.40\\ 21.30 -0.05\\
21.33 2.60\\ 21.37 -0.42\\ 21.40 0.22\\ 21.43 -0.18\\ 21.47 1.55\\ 21.50 0.05\\ 21.53 -0.32\\ 21.57 0.48\\ 21.60 -0.08\\ 21.63 -0.60\\
21.67 0.20\\ 21.70 2.40\\ 21.73 0.35\\ 21.77 -0.22\\ 21.80 0.10\\ 21.83 -0.45\\ 21.87 0.55\\ 21.90 0.02\\ 21.93 -1.05\\ 21.97 0.28\\
22.00 0.15\\ 22.03 0.62\\ 22.07 -0.05\\ 22.10 0.40\\ 22.13 0.85\\ 22.17 0.08\\ 22.20 0.55\\ 22.23 1.95\\ 22.27 0.22\\ 22.30 0.70\\
22.33 -0.12\\ 22.37 0.45\\ 22.40 0.95\\ 22.43 0.18\\ 22.47 -0.85\\ 22.50 0.60\\ 22.53 0.30\\ 22.57 0.78\\ 22.60 0.05\\ 22.63 0.48\\
22.67 1.10\\ 22.70 0.25\\ 22.73 0.65\\ 22.77 -0.10\\ 22.80 0.38\\ 22.83 0.88\\ 22.87 0.20\\ 22.90 0.55\\ 22.93 0.72\\ 22.97 0.12\\
23.00 0.45\\ 23.03 0.82\\ 23.07 0.10\\ 23.10 0.58\\ 23.13 1.15\\ 23.17 0.30\\ 23.20 0.68\\ 23.23 -0.55\\ 23.27 0.40\\ 23.30 0.92\\
23.33 0.15\\ 23.37 0.62\\ 23.40 0.35\\ 23.43 1.05\\ 23.47 0.50\\ 23.50 0.22\\ 23.53 0.75\\ 23.57 0.40\\ 23.60 0.98\\ 23.63 0.28\\
23.67 0.60\\ 23.70 1.62\\ 23.73 0.45\\ 23.77 0.80\\ 23.80 -3.05\\ 23.83 0.35\\ 23.87 0.70\\ 23.90 0.52\\ 23.93 0.90\\
}\halftable

\pgfplotsset{
  panel/.style={
    scale only axis, width=753.5pt, height=167.5pt, anchor=south west,
    xmin=-1.0, xmax=24.0, clip mode=individual,
    axis line style={line width=0.9pt},
    every tick/.style={black, line width=0.8pt},
    major tick length=5.4pt, tick align=outside,
    xtick pos=left, ytick pos=left,
    tick label style={font=\fontsize{8.6}{10}\selectfont},
    xticklabel style={yshift=-2pt},
    label style={font=\fontsize{8.6}{10}\selectfont},
    scaled y ticks=false,
  },
  dots/.style={only marks, mark=*, mark size=1.45pt, mark options={fill=black, draw=black, line width=0.1pt}},
}

\begin{document}
\begin{tikzpicture}
\path[use as bounding box] (0,0) rectangle (972pt,756pt);

% ---- top panel ----
\begin{axis}[panel, at={(121.3pt,497.7pt)},
  ymin=-7871, ymax=291,
  xtick={0,3,6,9,12,15,18,21},
  xticklabels={01-26 00,01-26 03,01-26 06,01-26 09,01-26 12,01-26 15,01-26 18,01-26 21},
  ytick={-7000,-6000,-5000,-4000,-3000,-2000,-1000,0},
  yticklabels={−7000,−6000,−5000,−4000,−3000,−2000,−1000,0},
  legend style={at={(rel axis cs:0.993,0.5)}, anchor=east, draw=black!22, rounded corners=1.5pt,
    font=\fontsize{7.4}{8}\selectfont, inner xsep=2pt, inner ysep=1.5pt},
  legend image code/.code={\draw[#1] (0pt,0pt) -- (15pt,0pt);},
]
\addplot[rawblue, line width=1.15pt] table[x=t, y=v] {\toptable};
\addlegendentry{Raw Data}
\node[anchor=base, inner sep=0pt, font=\fontsize{18}{21}\selectfont] at (rel axis cs:0.5,1) [yshift=8.6pt] {ZinsC20200126.csv};
\end{axis}
\begin{axis}[panel, at={(121.3pt,497.7pt)},
  axis x line=none, axis y line*=right, ytick pos=right,
  ymin=-7115000, ymax=0,
  ytick={-7000000,-6000000,-5000000,-4000000,-3000000,-2000000,-1000000,0},
  yticklabels={−7000000,−6000000,−5000000,−4000000,−3000000,−2000000,−1000000,0},
  yticklabel style={anchor=west},
]
\end{axis}

% ---- middle panel ----
\begin{axis}[panel, at={(121.3pt,296.2pt)},
  ymin=-3.77, ymax=10.05,
  xtick={0,2,4,6,8,10,12,14,16,18,20,22}, xticklabels={},
  ytick={-2,0,2,4,6,8,10}, yticklabels={−2,0,2,4,6,8,10},
  ylabel={Azimuth Full},
  ylabel style={at={(axis description cs:-0.0444,0.5)}, anchor=center},
]
\addplot[dots] table[x=t, y=a] {\fulltable};
\addplot[dots] table[x=t, y expr=\thisrow{a}+6.2832] {\fulltable};
\end{axis}

% ---- bottom panel ----
\begin{axis}[panel, at={(121.3pt,94.7pt)},
  ymin=-3.77, ymax=10.05,
  xtick={0,2,4,6,8,10,12,14,16,18,20,22},
  xticklabels={Jan-26,02:00,04:00,06:00,08:00,10:00,12:00,14:00,16:00,18:00,20:00,22:00},
  ytick={-2,0,2,4,6,8,10}, yticklabels={−2,0,2,4,6,8,10},
  ylabel={Azimuth Half},
  ylabel style={at={(axis description cs:-0.0444,0.5)}, anchor=center},
]
\addplot[dots] table[x=t, y=a] {\halftable};
\addplot[dots] table[x=t, y expr=\thisrow{a}+6.2832] {\halftable};
\node[anchor=base east, inner sep=0pt, font=\fontsize{8.6}{10}\selectfont] at (rel axis cs:1,0) [yshift=-30pt] {2020-Jan-26};
\end{axis}
\end{tikzpicture}
\end{document}
